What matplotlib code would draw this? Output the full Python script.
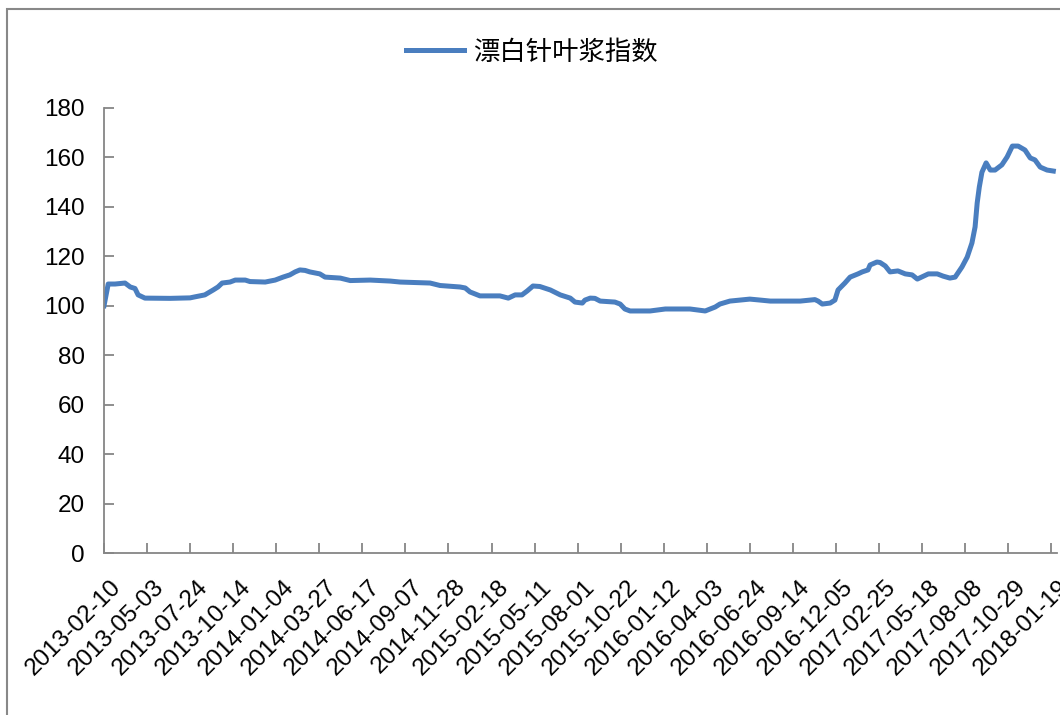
# 漂白针叶浆指数 line chart
import matplotlib
matplotlib.use("Agg")
import matplotlib.pyplot as plt
import matplotlib.dates as mdates
import matplotlib.transforms as mtransforms
from matplotlib.patches import Rectangle
import pandas as pd

plt.rcParams['font.family'] = ['Liberation Sans', 'Noto Sans CJK SC', 'DejaVu Sans']

dates = [
    "2013-02-10", "2013-02-18", "2013-03-03", "2013-03-22", "2013-04-01", "2013-04-10",
    "2013-04-16", "2013-04-29", "2013-06-16", "2013-07-24", "2013-08-02", "2013-08-21",
    "2013-09-06", "2013-09-15", "2013-09-23", "2013-10-08", "2013-10-18", "2013-11-06",
    "2013-11-15", "2013-12-14", "2014-01-02", "2014-01-17", "2014-01-30", "2014-02-09",
    "2014-02-18", "2014-02-28", "2014-03-09", "2014-03-28", "2014-04-07", "2014-05-06",
    "2014-05-25", "2014-07-02", "2014-08-09", "2014-08-28", "2014-10-24", "2014-11-12",
    "2014-12-20", "2014-12-30", "2015-01-08", "2015-01-27", "2015-03-06", "2015-03-22",
    "2015-04-04", "2015-04-17", "2015-04-27", "2015-05-08", "2015-05-21", "2015-06-10",
    "2015-06-29", "2015-07-18", "2015-07-27", "2015-08-10", "2015-08-15", "2015-08-25",
    "2015-09-03", "2015-09-13", "2015-10-11", "2015-10-21", "2015-10-30", "2015-11-09",
    "2015-12-17", "2016-01-15", "2016-03-02", "2016-03-31", "2016-04-19", "2016-04-28",
    "2016-05-17", "2016-06-24", "2016-07-14", "2016-08-02", "2016-09-28", "2016-10-26",
    "2016-11-01", "2016-11-09", "2016-11-24", "2016-12-03", "2016-12-09", "2016-12-22",
    "2017-01-01", "2017-01-16", "2017-01-24", "2017-02-04", "2017-02-08", "2017-02-21",
    "2017-02-27", "2017-03-09", "2017-03-18", "2017-04-02", "2017-04-16", "2017-04-29",
    "2017-05-09", "2017-05-30", "2017-06-16", "2017-06-27", "2017-07-10", "2017-07-20",
    "2017-08-02", "2017-08-12", "2017-08-21", "2017-08-27", "2017-08-31", "2017-09-04",
    "2017-09-09", "2017-09-17", "2017-09-25", "2017-10-04", "2017-10-17", "2017-10-27",
    "2017-11-06", "2017-11-17", "2017-11-30", "2017-12-10", "2017-12-19", "2017-12-29",
    "2018-01-11", "2018-01-23",
]
index = [
    100.0, 108.8, 108.8, 109.2, 107.6, 107.0,
    104.4, 103.1, 103.0, 103.2, 103.6, 104.4,
    106.4, 107.6, 109.2, 109.6, 110.4, 110.4,
    109.8, 109.6, 110.4, 111.6, 112.5, 113.7,
    114.5, 114.3, 113.7, 112.9, 111.6, 111.2,
    110.2, 110.4, 110.0, 109.6, 109.2, 108.2,
    107.6, 107.2, 105.6, 104.0, 104.0, 103.1,
    104.4, 104.4, 106.0, 108.0, 107.8, 106.4,
    104.4, 103.1, 101.5, 101.1, 102.3, 103.1,
    103.0, 101.9, 101.5, 100.7, 98.7, 97.9,
    97.9, 98.7, 98.7, 97.9, 99.5, 100.7,
    101.9, 102.7, 102.3, 101.9, 101.9, 102.5,
    101.9, 100.7, 101.1, 102.3, 106.4, 109.2,
    111.6, 112.9, 113.7, 114.5, 116.5, 117.7,
    117.5, 116.1, 113.7, 114.1, 112.9, 112.5,
    110.8, 112.9, 112.9, 112.0, 111.2, 111.6,
    115.7, 119.7, 125.4, 131.9, 141.6, 148.0,
    154.0, 157.8, 154.9, 154.9, 157.0, 160.2,
    164.6, 164.6, 163.0, 159.8, 159.0, 156.1,
    154.9, 154.5,
]
tick_start = "2013-02-10"
tick_step_days = 82
n_ticks = 23

x = pd.to_datetime(dates)
ticks = pd.date_range(tick_start, periods=n_ticks, freq=f"{tick_step_days}D")

fig = plt.figure(figsize=(10.6, 7.15), dpi=100)
ax = fig.add_axes([104 / 1060, 1 - 553 / 715, (1057 - 104) / 1060, (553 - 108) / 715])

ax.plot(x, index, color="#4a7ebf", lw=3.6, solid_joinstyle="round", label="漂白针叶浆指数")

ax.set_ylim(0, 180)
ax.set_yticks(range(0, 181, 20))
ax.set_xlim(pd.Timestamp(tick_start), pd.Timestamp(tick_start) + pd.Timedelta(days=1815))
ax.set_xticks(ticks)
ax.set_xticklabels([t.strftime("%Y-%m-%d") for t in ticks])

for s in ["top", "right"]:
    ax.spines[s].set_visible(False)
for s in ["left", "bottom"]:
    ax.spines[s].set_color("#868686")
    ax.spines[s].set_linewidth(1.3)

ax.tick_params(axis="y", direction="in", length=7, width=1.3, color="#868686",
               labelsize=17.5, pad=14)
ax.tick_params(axis="x", direction="in", length=7, width=1.3, color="#868686",
               labelsize=17.5, pad=22)
offset = mtransforms.ScaledTranslation(0.14, 0, fig.dpi_scale_trans)
for lab in ax.get_xticklabels():
    lab.set_rotation(45)
    lab.set_ha("right")
    lab.set_va("center")
    lab.set_rotation_mode("anchor")
    lab.set_transform(lab.get_transform() + offset)

fig.legend(loc="center", bbox_to_anchor=(0.502, 1 - 52 / 715), frameon=False,
           prop={"family": ["Noto Sans CJK SC"], "size": 19},
           handlelength=2.2, handletextpad=0.35)

# outer chart frame
fig.patches.append(Rectangle((7 / 1060, -0.05), 1.1, 1.05 - 9 / 715,
                             transform=fig.transFigure, fill=False,
                             edgecolor="#888888", lw=1.5))

fig.savefig("out.png", dpi=100)
